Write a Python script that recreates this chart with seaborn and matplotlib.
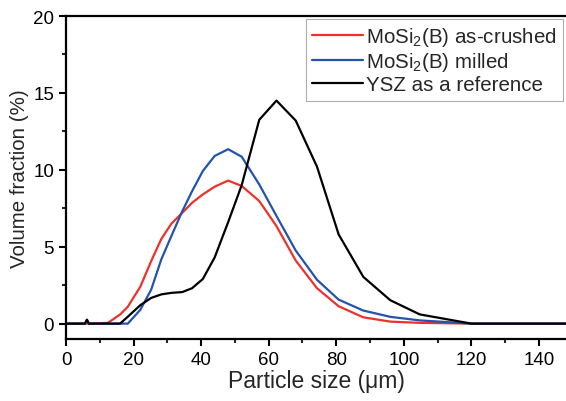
import matplotlib
matplotlib.use("Agg")
import matplotlib.pyplot as plt
import seaborn as sns
import pandas as pd
from matplotlib.ticker import MultipleLocator

size = [0, 5.6, 6.2, 6.8, 12.4, 16.0, 18.3, 22.0, 25.2, 28.2, 31.2, 34.4, 37.3,
        40.5, 44.0, 48.0, 52.0, 57.2, 62.3, 68.0, 74.3, 80.7, 88.0, 96.0, 104.7, 120, 148]
as_crushed = [0, 0, 0, 0, 0.05, 0.59, 1.1, 2.4, 4.06, 5.5, 6.5, 7.2, 7.85,
              8.4, 8.9, 9.3, 8.95, 7.97, 6.34, 4.1, 2.3, 1.13, 0.41, 0.13, 0.05, 0, 0]
milled = [0, 0, 0.2, 0, 0, 0, 0, 0.9, 2.2, 4.17, 5.7, 7.3, 8.6,
          9.92, 10.9, 11.34, 10.85, 9.05, 7.0, 4.75, 2.85, 1.56, 0.85, 0.44, 0.21, 0, 0]
ysz = [0, 0, 0.26, 0, 0, 0, 0.45, 1.2, 1.67, 1.9, 2.0, 2.05, 2.3,
       2.9, 4.3, 6.6, 9.0, 13.25, 14.5, 13.2, 10.2, 5.8, 3.04, 1.52, 0.6, 0, 0]

labels = ["MoSi$_2$(B) as-crushed", "MoSi$_2$(B) milled", "YSZ as a reference"]
colors = ["#f0302a", "#2353ad", "#000000"]

rows = []
for lab, vals in zip(labels, [as_crushed, milled, ysz]):
    for s, v in zip(size, vals):
        rows.append({"size": s, "frac": v, "sample": lab})
df = pd.DataFrame(rows)

sns.set_style("ticks")
plt.rcParams["font.family"] = ["Liberation Sans", "DejaVu Sans"]
plt.rcParams["mathtext.fontset"] = "custom"
plt.rcParams["mathtext.rm"] = "Liberation Sans"
plt.rcParams["mathtext.default"] = "regular"

fig = plt.figure(figsize=(5.66, 4.02), dpi=100)
ax = fig.add_axes([66/566, 62/402, 1 - 66/566, (340-17)/402])

sns.lineplot(data=df, x="size", y="frac", hue="sample", palette=dict(zip(labels, colors)),
             hue_order=labels, linewidth=1.6, ax=ax, sort=False, estimator=None)

ax.set_xlim(0, 148)
ax.set_ylim(-1, 20)
ax.xaxis.set_major_locator(MultipleLocator(20))
ax.xaxis.set_minor_locator(MultipleLocator(10))
ax.yaxis.set_major_locator(MultipleLocator(5))
ax.yaxis.set_minor_locator(MultipleLocator(2.5))
ax.tick_params(axis="both", which="major", direction="out", length=5, width=1.5, labelsize=13.5, colors="black")
ax.tick_params(axis="both", which="minor", direction="out", length=3, width=1.5)
for sp in ["left", "bottom", "top"]:
    ax.spines[sp].set_linewidth(1.6)
    ax.spines[sp].set_color("black")
ax.spines["right"].set_visible(False)

ax.set_xlabel("Particle size (μm)", fontsize=16.5, labelpad=1)
ax.set_ylabel("Volume fraction (%)", fontsize=14.8, labelpad=3)

leg = ax.legend(loc="upper right", fontsize=14.8, frameon=True, fancybox=False,
                edgecolor="#999999", handlelength=2.5, handletextpad=0.15,
                labelspacing=0.1, borderpad=0.3, borderaxespad=0.15)
leg.get_frame().set_linewidth(0.8)

fig.savefig("out.png", dpi=100)
